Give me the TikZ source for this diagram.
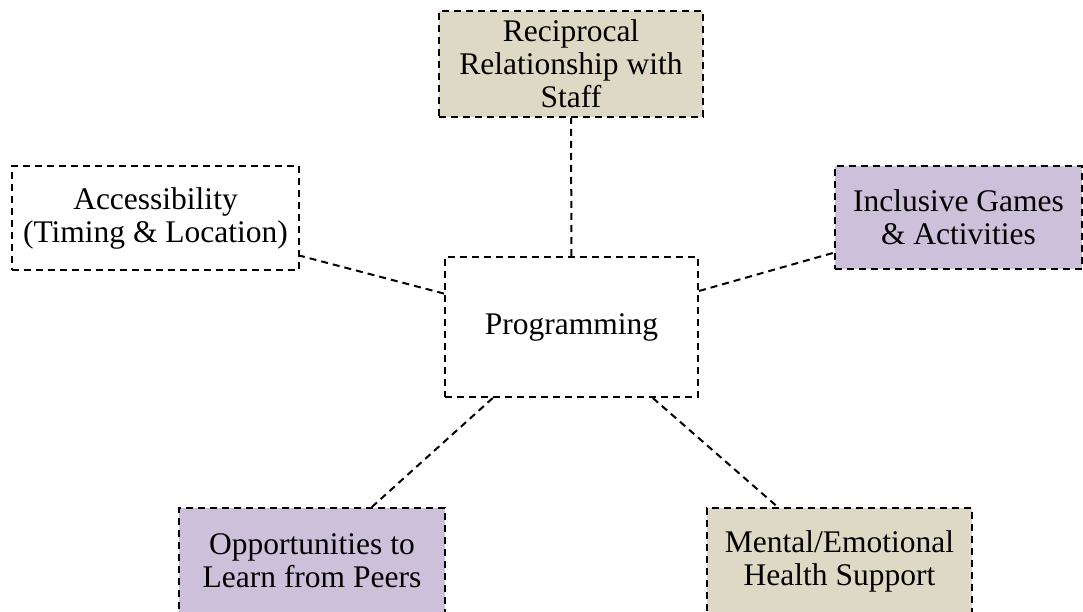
\documentclass[tikz,border=0pt]{standalone}
\usepackage{fontspec}
\setmainfont{Liberation Serif}
\definecolor{tanfill}{RGB}{221,217,196}
\definecolor{lilacfill}{RGB}{204,192,218}
\tikzset{
  theme/.style={draw=black, line width=2pt, dash pattern=on 7pt off 5pt,
    align=center, inner sep=0pt,
    font=\fontsize{31.5}{33}\selectfont},
  link/.style={draw=black, line width=2pt, dash pattern=on 7pt off 5pt},
}
\begin{document}
\begin{tikzpicture}[x=1pt,y=-1pt]
  \useasboundingbox (0,0) rectangle (1083,612);
  \clip (0,0) rectangle (1083,612);

  % central theme
  \node[theme, minimum width=253pt, minimum height=140pt] (prog) at (571.5,327) {Programming};

  % surrounding sub-themes
  \node[theme, fill=tanfill, minimum width=264pt, minimum height=106pt] (staff) at (571,64)
    {Reciprocal\\Relationship with\\Staff};
  \node[theme, minimum width=287pt, minimum height=104pt] (acc) at (155.5,218)
    {Accessibility\\(Timing \& Location)};
  \node[theme, fill=lilacfill, minimum width=247pt, minimum height=103pt] (games) at (958.5,217.5)
    {Inclusive Games\\\& Activities};
  \node[theme, fill=lilacfill, minimum width=266pt, minimum height=106pt] (peers) at (312,561)
    {Opportunities to\\Learn from Peers};
  \node[theme, fill=tanfill, minimum width=265pt, minimum height=106pt] (health) at (839.5,561)
    {Mental/Emotional\\Health Support};

  % connectors
  \draw[link] (prog) -- (staff);
  \draw[link] (prog) -- (acc);
  \draw[link] (prog) -- (games);
  \draw[link] (prog) -- (peers);
  \draw[link] (prog) -- (health);
\end{tikzpicture}
\end{document}
